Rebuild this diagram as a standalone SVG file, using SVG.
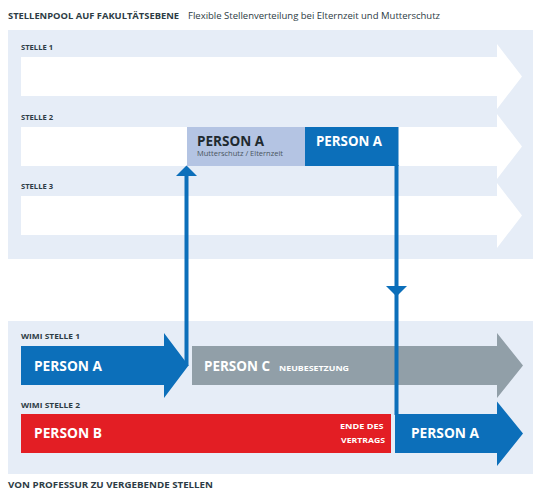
<svg xmlns="http://www.w3.org/2000/svg" width="533" height="488" viewBox="0 0 533 488">
<defs>
<style>
.panel{fill:#e6edf7}
.lane{fill:#ffffff}
.lbl{font-family:"Open Sans","Liberation Sans",sans-serif;font-weight:bold;font-size:7px;fill:#2d3c45}
.big{font-family:"Open Sans","Liberation Sans",sans-serif;font-weight:bold;font-size:13.5px;fill:#ffffff}
.small{font-family:"Open Sans","Liberation Sans",sans-serif;font-weight:bold;font-size:6.5px;fill:#ffffff}
.blue{fill:#0c6fba}
.conn{stroke:#0c6fba;stroke-width:4;fill:none}
</style>
</defs>
<rect width="533" height="488" fill="#ffffff"/>
<g id="title">
<text x="8" y="19" class="lbl" style="font-size:8.5px" textLength="171" lengthAdjust="spacingAndGlyphs">STELLENPOOL AUF FAKULTÄTSEBENE</text>
<text x="188" y="19" style="font-family:'Open Sans','Liberation Sans',sans-serif;font-size:9.5px;fill:#2d3c45" textLength="252" lengthAdjust="spacingAndGlyphs">Flexible Stellenverteilung bei Elternzeit und Mutterschutz</text>
</g>
<g id="pool-panel">
<rect class="panel" x="8" y="30" width="525" height="229"/>
<text class="lbl" x="21" y="50" textLength="32" lengthAdjust="spacingAndGlyphs">STELLE 1</text>
<text class="lbl" x="21" y="119.5" textLength="32" lengthAdjust="spacingAndGlyphs">STELLE 2</text>
<text class="lbl" x="21" y="189" textLength="32" lengthAdjust="spacingAndGlyphs">STELLE 3</text>
</g>
<g id="stelle1"><polygon class="lane" points="21,57 497,57 497,44 522,76.5 497,109 497,96 21,96"/></g>
<g id="stelle2"><polygon class="lane" points="21,127 497,127 497,114 522,146.5 497,179 497,166 21,166"/></g>
<g id="stelle3"><polygon class="lane" points="21,196 497,196 497,183 522,215.5 497,248 497,235 21,235"/></g>
<g id="person-a-leave">
<rect x="187" y="127" width="118" height="39" fill="#b4c4e3"/>
<text x="197" y="146" style="font-family:'Open Sans','Liberation Sans',sans-serif;font-weight:bold;font-size:13.5px;fill:#1f2a30" textLength="67" lengthAdjust="spacingAndGlyphs">PERSON A</text>
<text x="197" y="156" style="font-family:'Open Sans','Liberation Sans',sans-serif;font-size:6.5px;fill:#4a5560" textLength="86" lengthAdjust="spacingAndGlyphs">Mutterschutz / Elternzeit</text>
</g>
<g id="person-a-return">
<rect class="blue" x="305" y="127" width="93.5" height="39"/>
<text class="big" x="316" y="146" textLength="66" lengthAdjust="spacingAndGlyphs">PERSON A</text>
</g>
<g id="wimi-panel">
<rect class="panel" x="8" y="321" width="525" height="153"/>
<text class="lbl" x="21" y="339" textLength="59" lengthAdjust="spacingAndGlyphs">WIMI STELLE 1</text>
<text class="lbl" x="21" y="408" textLength="59" lengthAdjust="spacingAndGlyphs">WIMI STELLE 2</text>
</g>
<g id="wimi1-person-a">
<polygon class="blue" points="21,346 164,346 164,333 188.5,365.5 164,398 164,385 21,385"/>
<text class="big" x="34" y="371" textLength="68" lengthAdjust="spacingAndGlyphs">PERSON A</text>
</g>
<g id="wimi1-person-c">
<polygon fill="#919fa8" points="192,346 497,346 497,333 523,365.5 497,398 497,385 192,385"/>
<text class="big" x="204" y="371" textLength="66" lengthAdjust="spacingAndGlyphs">PERSON C</text>
<text class="small" x="279" y="371" textLength="70" lengthAdjust="spacingAndGlyphs">NEUBESETZUNG</text>
</g>
<g id="wimi2-person-b">
<rect x="21" y="414" width="370" height="39" fill="#e31e24"/>
<text class="big" x="34" y="438" textLength="68" lengthAdjust="spacingAndGlyphs">PERSON B</text>
<text class="small" x="340" y="429" style="font-size:7.5px" textLength="43.5" lengthAdjust="spacingAndGlyphs">ENDE DES</text>
<text class="small" x="341" y="442.5" style="font-size:7.5px" textLength="44" lengthAdjust="spacingAndGlyphs">VERTRAGS</text>
</g>
<g id="wimi2-person-a">
<polygon class="blue" points="395,414 497,414 497,401.5 523,433.5 497,466 497,453 395,453"/>
<text class="big" x="411" y="438" textLength="68" lengthAdjust="spacingAndGlyphs">PERSON A</text>
</g>
<g id="connectors">
<line class="conn" x1="186.5" y1="175" x2="186.5" y2="366"/>
<polygon class="blue" points="186.5,165.5 197,176 176,176"/>
<line class="conn" x1="396.5" y1="165" x2="396.5" y2="415"/>
<polygon class="blue" points="386,286 407,286 396.5,296.5"/>
</g>
<g id="footer">
<text class="lbl" x="8" y="487.5" style="font-size:8.5px" textLength="205" lengthAdjust="spacingAndGlyphs">VON PROFESSUR ZU VERGEBENDE STELLEN</text>
</g>
</svg>
